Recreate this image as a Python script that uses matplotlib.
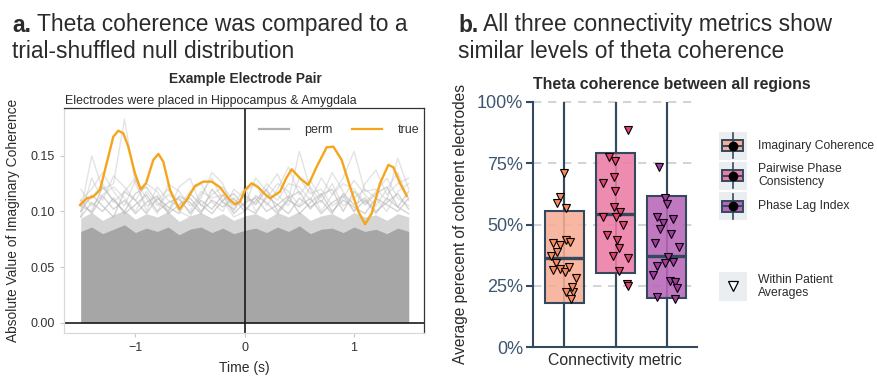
import matplotlib
matplotlib.use("Agg")
import matplotlib.pyplot as plt
from matplotlib.patches import Rectangle
from matplotlib.lines import Line2D
from matplotlib.text import Annotation

plt.rcParams['font.family'] = ['Liberation Sans', 'DejaVu Sans']

# ---------------- data: panel a ----------------
true_t = [-1.507, -1.446, -1.385, -1.324, -1.263, -1.202, -1.156, -1.111, -1.065, -1.004,
          -0.952, -0.903, -0.836, -0.790, -0.745, -0.683, -0.598, -0.531, -0.455, -0.379,
          -0.302, -0.226, -0.150, -0.089, -0.043, 0.003, 0.064, 0.125, 0.180, 0.231,
          0.323, 0.380, 0.430, 0.506, 0.582, 0.659, 0.750, 0.811, 0.887, 0.963,
          1.040, 1.101, 1.162, 1.238, 1.314, 1.360, 1.421, 1.482]
true_v = [0.1058, 0.1118, 0.1133, 0.1193, 0.1433, 0.1672, 0.1726, 0.1703, 0.1582, 0.1343,
          0.1199, 0.1253, 0.1463, 0.1517, 0.1448, 0.1193, 0.1019, 0.1103, 0.1229, 0.1268,
          0.1268, 0.1217, 0.1118, 0.1064, 0.1088, 0.1193, 0.1253, 0.1217, 0.1160, 0.1118,
          0.1178, 0.1300, 0.1379, 0.1298, 0.1238, 0.1403, 0.1577, 0.1582, 0.1463, 0.1223,
          0.0998, 0.0885, 0.0983, 0.1253, 0.1418, 0.1397, 0.1253, 0.1139]

perm_t = [-1.5, -1.4, -1.3, -1.2, -1.1, -1.0, -0.9, -0.8, -0.7, -0.6, -0.5, -0.4, -0.3, -0.2,
          -0.1, 0.0, 0.1, 0.2, 0.3, 0.4, 0.5, 0.6, 0.7, 0.8, 0.9, 1.0, 1.1, 1.2, 1.3, 1.4, 1.5]
perm_core = [0.082, 0.086, 0.080, 0.084, 0.088, 0.081, 0.085, 0.082, 0.086, 0.079, 0.084,
             0.086, 0.081, 0.085, 0.080, 0.083, 0.085, 0.081, 0.086, 0.082, 0.087, 0.080,
             0.084, 0.085, 0.081, 0.086, 0.082, 0.084, 0.080, 0.085, 0.082]
perm_mid = [0.094, 0.099, 0.092, 0.097, 0.101, 0.093, 0.098, 0.095, 0.100, 0.091, 0.096,
            0.099, 0.094, 0.098, 0.092, 0.096, 0.098, 0.093, 0.099, 0.095, 0.100, 0.092,
            0.096, 0.098, 0.093, 0.099, 0.095, 0.097, 0.092, 0.098, 0.095]
perm_1 = [0.100, 0.150, 0.120, 0.125, 0.183, 0.125, 0.105, 0.110, 0.120, 0.100, 0.095,
          0.115, 0.130, 0.110, 0.095, 0.100, 0.110, 0.120, 0.134, 0.110, 0.154, 0.120,
          0.100, 0.115, 0.130, 0.154, 0.118, 0.120, 0.110, 0.148, 0.120]
perm_2 = [0.110, 0.120, 0.135, 0.118, 0.105, 0.128, 0.112, 0.098, 0.125, 0.118, 0.105,
          0.112, 0.135, 0.125, 0.100, 0.118, 0.125, 0.105, 0.120, 0.140, 0.115, 0.128,
          0.112, 0.135, 0.118, 0.100, 0.125, 0.137, 0.115, 0.125, 0.130]
perm_3 = [0.095, 0.130, 0.110, 0.132, 0.122, 0.110, 0.125, 0.118, 0.100, 0.122, 0.130,
          0.105, 0.115, 0.122, 0.110, 0.105, 0.130, 0.118, 0.110, 0.125, 0.122, 0.110,
          0.130, 0.115, 0.125, 0.120, 0.108, 0.118, 0.130, 0.112, 0.105]
perm_4 = [0.105, 0.112, 0.125, 0.108, 0.118, 0.130, 0.100, 0.122, 0.110, 0.105, 0.118,
          0.125, 0.108, 0.100, 0.120, 0.112, 0.108, 0.125, 0.115, 0.105, 0.130, 0.116,
          0.120, 0.105, 0.112, 0.128, 0.115, 0.105, 0.120, 0.135, 0.110]
perm_5 = [0.120, 0.105, 0.115, 0.122, 0.112, 0.100, 0.118, 0.105, 0.115, 0.110, 0.100,
          0.118, 0.112, 0.115, 0.105, 0.122, 0.100, 0.112, 0.125, 0.118, 0.105, 0.122,
          0.108, 0.125, 0.105, 0.112, 0.120, 0.112, 0.100, 0.118, 0.125]
perm_6 = [0.095, 0.108, 0.100, 0.112, 0.098, 0.106, 0.115, 0.100, 0.108, 0.112, 0.098,
          0.110, 0.102, 0.115, 0.098, 0.108, 0.112, 0.100, 0.106, 0.114, 0.098, 0.108,
          0.116, 0.100, 0.110, 0.104, 0.098, 0.112, 0.106, 0.100, 0.112]
perm_7 = [0.110, 0.098, 0.114, 0.102, 0.110, 0.098, 0.108, 0.114, 0.098, 0.106, 0.112,
          0.100, 0.110, 0.104, 0.112, 0.100, 0.114, 0.108, 0.098, 0.110, 0.104, 0.112,
          0.098, 0.108, 0.114, 0.100, 0.110, 0.098, 0.112, 0.104, 0.098]
perm_8 = [0.100, 0.115, 0.105, 0.095, 0.118, 0.110, 0.098, 0.112, 0.104, 0.098, 0.116,
          0.106, 0.098, 0.110, 0.116, 0.104, 0.098, 0.114, 0.106, 0.098, 0.112, 0.104,
          0.110, 0.098, 0.116, 0.106, 0.112, 0.100, 0.108, 0.116, 0.102]
perm_9 = [0.105, 0.100, 0.122, 0.110, 0.100, 0.116, 0.122, 0.108, 0.100, 0.114, 0.108,
          0.098, 0.120, 0.108, 0.102, 0.115, 0.106, 0.120, 0.100, 0.112, 0.118, 0.102,
          0.115, 0.120, 0.100, 0.118, 0.106, 0.116, 0.122, 0.104, 0.118]
perm_high = [perm_1, perm_2, perm_3, perm_4, perm_5]
perm_low = [perm_6, perm_7, perm_8, perm_9]

# ---------------- data: panel b ----------------
metrics = ["Imaginary Coherence", "Pairwise Phase\nConsistency", "Phase Lag Index"]
box_q1 = [18.2, 30.1, 20.1]
box_med = [36.4, 54.3, 37.0]
box_q3 = [55.6, 79.0, 61.6]
box_lo = [0, 0, 0]
box_hi = [100, 100, 100]

ic_dx = [-0.006, -0.071, -0.136, 0.045, -0.214, -0.084, 0.032, 0.110, -0.136, -0.253,
         -0.149, -0.214, -0.071, 0.013, 0.097, 0.240, 0.032, 0.175, 0.162, 0.143]
ic_pct = [71.1, 61.3, 58.6, 56.6, 42.6, 41.7, 43.7, 43.0, 38.9, 37.2,
          34.5, 31.5, 31.8, 30.8, 32.8, 28.1, 22.7, 22.7, 24.7, 19.5]
ppc_dx = [0.234, -0.123, -0.013, -0.240, -0.032, -0.013, -0.032, 0.084, 0.019, -0.240,
          0.149, -0.175, 0.032, 0.071, -0.045, 0.247, 0.071, 0.214, 0.247]
ppc_pct = [88.5, 77.3, 76.0, 66.8, 69.2, 63.8, 57.3, 55.2, 53.2, 53.2,
           49.8, 45.7, 43.7, 40.3, 37.2, 36.2, 31.2, 25.8, 25.0]
pli_dx = [-0.149, -0.039, -0.006, -0.201, -0.071, 0.123, -0.136, 0.071, -0.234, 0.240,
          0.026, -0.201, -0.039, 0.123, -0.266, 0.058, 0.156, 0.188, -0.188, 0.156]
pli_pct = [73.5, 60.7, 58.3, 53.2, 50.7, 52.1, 48.0, 46.0, 42.6, 40.7,
           36.9, 33.1, 34.2, 34.9, 29.4, 27.1, 26.7, 24.0, 20.6, 19.7]
pts_dx = [ic_dx, ppc_dx, pli_dx]
pts_pct = [ic_pct, ppc_pct, pli_pct]

box_fill = ['#F6AD97', '#EC7BA6', '#B866B8']
pt_fill = ['#F98A5E', '#E4426F', '#A23AA2']
slate = '#34495E'
txt = '#2B2B2B'

W, H = 877, 377
fig = plt.figure(figsize=(W / 100, H / 100), dpi=100)


def fx(x):
    return x / W


def fy(y):
    return 1 - y / H


TS = 16.4
# ---------------- titles ----------------
ta = fig.text(fx(12), fy(31.5), 'a.', fontsize=TS, fontweight='bold', color=txt,
              va='baseline', ha='left')
fig.add_artist(Annotation(' Theta coherence was compared to a', xy=(1, 0), xycoords=ta,
                          va='bottom', ha='left', fontsize=TS, color=txt))
fig.text(fx(12), fy(58.5), 'trial-shuffled null distribution', fontsize=TS, color=txt,
         va='baseline', ha='left')

tb = fig.text(fx(458), fy(31.5), 'b.', fontsize=TS, fontweight='bold', color=txt,
              va='baseline', ha='left')
fig.add_artist(Annotation(' All three connectivity metrics show', xy=(1, 0), xycoords=tb,
                          va='bottom', ha='left', fontsize=TS, color=txt))
fig.text(fx(458), fy(58.5), 'similar levels of theta coherence', fontsize=TS, color=txt,
         va='baseline', ha='left')

# ---------------- panel a ----------------
ax1 = fig.add_axes([fx(64), fy(333), (424 - 64) / W, (333 - 108) / H])
ax1.set_xlim(-1.653, 1.64)
ax1.set_ylim(-0.0093, 0.193)
ax1.fill_between(perm_t, 0, perm_core, color='#A6A6A6', lw=0, zorder=1)
ax1.fill_between(perm_t, 0, perm_mid, color='#A6A6A6', alpha=0.45, lw=0, zorder=1)
for c in perm_low:
    ax1.plot(perm_t, c, color='#B2B2B2', lw=1.0, alpha=0.55, zorder=1.5)
for c in perm_high:
    ax1.plot(perm_t, c, color='#C2C2C2', lw=1.0, alpha=0.45, zorder=1.5)
ax1.axhline(0, color='#1A1A1A', lw=1.2, zorder=2)
ax1.axvline(0, color='#1A1A1A', lw=1.2, zorder=2)
ax1.plot(true_t, true_v, color='#F5A51C', lw=1.7, zorder=3, solid_joinstyle='round')
ax1.set_yticks([0, 0.05, 0.10, 0.15])
ax1.set_yticklabels(['0.00', '0.05', '0.10', '0.15'])
ax1.set_xticks([-1, 0, 1])
ax1.set_xticklabels(['\u22121', '0', '1'])
ax1.tick_params(labelsize=9, colors='#C8C8C8', labelcolor='#333333', length=3, width=0.8)
for s in ['left', 'bottom']:
    ax1.spines[s].set_color('#D9D9D9')
for s in ['top', 'right']:
    ax1.spines[s].set_color('#333333')
for s in ax1.spines.values():
    s.set_linewidth(0.9)
ax1.set_xlabel('Time (s)', fontsize=10, color=txt, labelpad=5)
fig.text(fx(13), fy(220), 'Absolute Value of Imaginary Coherence', rotation=90,
         fontsize=9.9, color=txt, ha='center', va='center')
fig.text(fx(245.5), fy(79.3), 'Example Electrode Pair', fontsize=9.9, fontweight='bold',
         color=txt, ha='center', va='center')
fig.text(fx(65), fy(100.7), 'Electrodes were placed in Hippocampus & Amygdala', fontsize=8.9,
         color=txt, ha='left', va='center')
leg_handles = [Line2D([], [], color='#B0B0B0', lw=1.6), Line2D([], [], color='#F5A51C', lw=1.6)]
ax1.legend(leg_handles, ['perm', 'true'], ncol=2, frameon=False, fontsize=9,
           loc='center', bbox_to_anchor=(fx(339), fy(130)), bbox_transform=fig.transFigure,
           handlelength=2.4, columnspacing=1.6, handletextpad=1.2, labelcolor='#333333')

# ---------------- panel b ----------------
ax2 = fig.add_axes([fx(532.7), fy(347.3), (697.3 - 532.7) / W, (347.3 - 101.7) / H])
ax2.set_xlim(-1.61, 1.59)
ax2.set_ylim(0, 100)
positions = [-1, 0, 1]
for yv in [25, 50, 75, 100]:
    ax2.axhline(yv, color='#C9CDD1', lw=1.2, ls=(0, (5, 4)), zorder=0.5, clip_on=False)
ax2.vlines(positions, box_lo, box_hi, color=slate, lw=1.5, zorder=1)
stats = [dict(med=m, q1=a, q3=b, whislo=lo, whishi=hi, fliers=[])
         for m, a, b, lo, hi in zip(box_med, box_q1, box_q3, box_lo, box_hi)]
bp = ax2.bxp(stats, positions=positions, widths=0.76, patch_artist=True, showcaps=False,
             manage_ticks=False, zorder=2,
             boxprops=dict(edgecolor=slate, linewidth=1.5),
             medianprops=dict(color=slate, linewidth=2.4),
             whiskerprops=dict(color=slate, linewidth=1.5))
for patch, col in zip(bp['boxes'], box_fill):
    patch.set_facecolor(matplotlib.colors.to_rgba(col, 0.88))
for p, dx, pc, col in zip(positions, pts_dx, pts_pct, pt_fill):
    ax2.plot([p + d for d in dx], pc, 'v', ms=6, mfc=col, mec='black', mew=0.8,
             ls='none', zorder=3)
ax2.set_yticks([0, 25, 50, 75, 100])
ax2.set_yticklabels(['0%', '25%', '50%', '75%', '100%'])
ax2.set_xticks([])
ax2.tick_params(axis='y', labelsize=13, colors=slate, labelcolor='#3E5570', length=5,
                width=1.5, pad=2)
for s in ['top', 'right']:
    ax2.spines[s].set_visible(False)
for s in ['left', 'bottom']:
    ax2.spines[s].set_color(slate)
    ax2.spines[s].set_linewidth(1.5)
ax2.set_xlabel('Connectivity metric', fontsize=11.4, color=txt, labelpad=4)
fig.text(fx(460.7), fy(224), 'Average perecent of coherent electrodes', rotation=90,
         fontsize=11.2, color=txt, ha='center', va='center')
fig.text(fx(672), fy(84), 'Theta coherence between all regions', fontsize=11.4,
         fontweight='bold', color=txt, ha='center', va='center')

# ---------------- panel b legend (manual) ----------------
key_tops = [131.7, 161.7, 192.3]
key_h = 28
for top, col, lab in zip(key_tops, box_fill, metrics):
    cy = top + key_h / 2
    fig.add_artist(Rectangle((fx(718.5), fy(top + key_h)), 28.5 / W, key_h / H,
                             transform=fig.transFigure, facecolor='#EBEEF0', edgecolor='none'))
    fig.add_artist(Line2D([fx(732.7)] * 2, [fy(top + 1.5), fy(top + key_h - 1.5)],
                          transform=fig.transFigure, color=slate, lw=1.2))
    fig.add_artist(Rectangle((fx(722), fy(cy + 5.3)), 21.4 / W, 10.6 / H,
                             transform=fig.transFigure, facecolor=col, edgecolor=slate,
                             lw=1.4))
    fig.add_artist(Line2D([fx(722), fx(743.4)], [fy(cy)] * 2, transform=fig.transFigure,
                          color=slate, lw=1.4))
    fig.add_artist(Line2D([fx(732.7)], [fy(cy)], transform=fig.transFigure, marker='o',
                          ms=6, color='black', ls='none'))
    fig.text(fx(758), fy(cy), lab, fontsize=8.7, color=txt, ha='left', va='center',
             linespacing=1.1)
fig.add_artist(Rectangle((fx(718.5), fy(300.5)), 28.5 / W, 28.5 / H,
                         transform=fig.transFigure, facecolor='#EBEEF0', edgecolor='none'))
fig.add_artist(Line2D([fx(732.7)], [fy(286.3)], transform=fig.transFigure, marker='v',
                      ms=6.5, mfc='white', mec='black', mew=0.9, ls='none'))
fig.text(fx(758), fy(286.3), 'Within Patient\nAverages', fontsize=8.7, color=txt,
         ha='left', va='center', linespacing=1.1)

fig.savefig('out.png', dpi=100)
